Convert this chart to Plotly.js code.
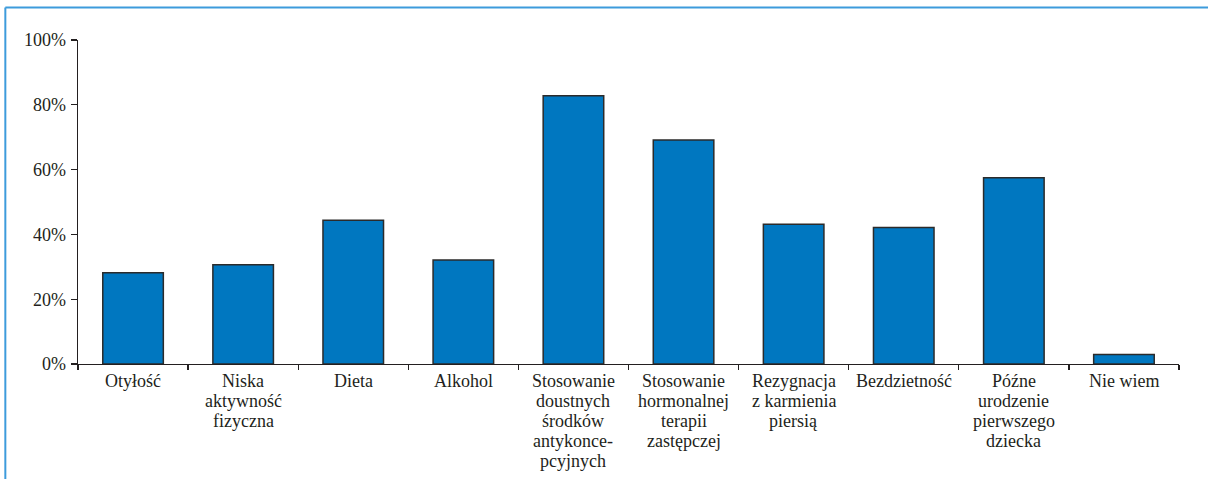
<!DOCTYPE html>
<html>
<head>
<meta charset="utf-8">
<script src="https://cdn.plot.ly/plotly-3.0.1.min.js"></script>
<style>
  html, body { margin: 0; padding: 0; background: #ffffff; }
  #chart { width: 1208px; height: 479px; }
</style>
</head>
<body>
<div id="chart"></div>
<script>
// Categories (lines of each label separated by <br>) and share of answers in percent
const categories = [
  "Otyłość",
  "Niska<br>aktywność<br>fizyczna",
  "Dieta",
  "Alkohol",
  "Stosowanie<br>doustnych<br>środków<br>antykonce-<br>pcyjnych",
  "Stosowanie<br>hormonalnej<br>terapii<br>zastępczej",
  "Rezygnacja<br>z karmienia<br>piersią",
  "Bezdzietność",
  "Późne<br>urodzenie<br>pierwszego<br>dziecka",
  "Nie wiem"
];
const percentValues = [28.2, 30.6, 44.4, 32.1, 82.8, 69.1, 43.1, 42.1, 57.5, 2.9];
const yTickValues = [0, 20, 40, 60, 80, 100];
const yTickLabels = ["0%", "20%", "40%", "60%", "80%", "100%"];

const serif = "'Liberation Serif', 'DejaVu Serif', serif";
const ink = "#231f20";
const frameColor = "#3d9bdc";
const labelSize = 18;
const labelLineStep = 20;   // tight leading of the category labels, px
const labelTopGap = 6;      // gap between x axis and first label line, px

const trace = {
  type: "bar",
  x: categories,
  y: percentValues,
  width: 0.55,
  marker: {
    color: "#0077c0",
    line: { color: "#2b2b2b", width: 1.5 }
  },
  hoverinfo: "x+y"
};

// Category labels: one annotation per text line, pinned to the category position
const labelAnnotations = [];
categories.forEach(function (cat) {
  cat.split("<br>").forEach(function (line, i) {
    labelAnnotations.push({
      x: cat, xref: "x",
      y: 0, yref: "paper",
      xanchor: "center", yanchor: "top",
      yshift: -(labelTopGap + i * labelLineStep),
      text: line,
      showarrow: false,
      borderpad: 0,
      font: { family: serif, size: labelSize, color: ink }
    });
  });
});

const layout = {
  width: 1208,
  height: 479,
  margin: { l: 78, r: 29, t: 39.5, b: 114.5, pad: 0 },
  paper_bgcolor: "#ffffff",
  plot_bgcolor: "#ffffff",
  showlegend: false,
  font: { family: serif, size: labelSize, color: ink },
  xaxis: {
    type: "category",
    showgrid: false,
    zeroline: false,
    showline: true,
    linecolor: ink,
    linewidth: 1.3,
    ticks: "outside",
    tickson: "boundaries",
    ticklen: 5,
    tickwidth: 1.3,
    tickcolor: ink,
    showticklabels: false,
    automargin: false
  },
  yaxis: {
    range: [0, 100],
    tickvals: yTickValues,
    ticktext: yTickLabels,
    showgrid: false,
    zeroline: false,
    showline: true,
    linecolor: ink,
    linewidth: 1.3,
    ticks: "outside",
    ticklen: 6,
    tickwidth: 1.3,
    tickcolor: ink,
    ticklabelstandoff: 1,
    tickfont: { family: serif, size: labelSize, color: ink },
    automargin: false,
    fixedrange: true
  },
  annotations: labelAnnotations,
  shapes: [
    // frame: top edge
    {
      type: "line", xref: "paper", yref: "paper",
      x0: -0.066, x1: 1.03, y0: 1.1, y1: 1.1,
      line: { color: frameColor, width: 2 }
    },
    // frame: left edge
    {
      type: "line", xref: "paper", yref: "paper",
      x0: -0.066, x1: -0.066, y0: 1.1, y1: -0.36,
      line: { color: frameColor, width: 2 }
    }
  ]
};

Plotly.newPlot("chart", [trace], layout, { displayModeBar: false, staticPlot: true });
</script>
</body>
</html>
